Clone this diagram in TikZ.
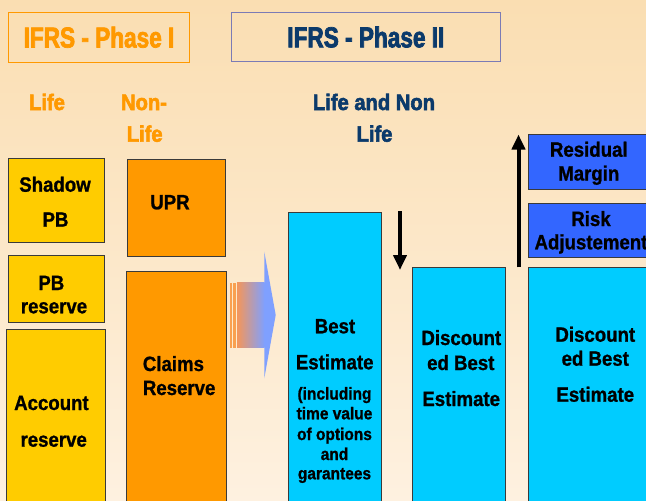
\documentclass[tikz,border=0pt]{standalone}
\usepackage{fontspec}
\setmainfont{Liberation Sans}
\newfontfamily\bodyf{Liberation Sans Bold}[FakeStretch=0.9, FakeBold=1]
\newfontfamily\subf{Liberation Sans Bold}[FakeStretch=0.9, FakeBold=2.5]
\newfontfamily\titlef{Liberation Sans Bold}[FakeStretch=0.785, FakeBold=2.5]
\usetikzlibrary{arrows.meta}
\definecolor{bgtop}{HTML}{FADEB2}
\definecolor{bgbot}{HTML}{FEF1E0}
\definecolor{yel}{HTML}{FFCC00}
\definecolor{orng}{HTML}{FF9900}
\definecolor{cyanb}{HTML}{00CCFF}
\definecolor{royal}{HTML}{3366FF}
\definecolor{navy}{HTML}{0B3A6B}
\definecolor{phline}{HTML}{7B7BB5}
\definecolor{boxline}{HTML}{3A3A3A}
\definecolor{arrL}{HTML}{F4965A}
\definecolor{arrR}{HTML}{7FA0FF}
\definecolor{stripe}{HTML}{F9A04F}
\begin{document}
\begin{tikzpicture}[x=1pt,y=-1pt,
  box/.style={draw=boxline, line width=0.9pt, anchor=north west, inner sep=0pt, outer sep=0pt},
  ybox/.style={box, fill=yel},
  obox/.style={box, fill=orng},
  cbox/.style={box, fill=cyanb},
  bbox/.style={box, fill=royal},
  title/.style={anchor=north west, line width=1pt, inner sep=0pt, font=\titlef\fontsize{28.8}{30}\selectfont},
  t/.style={anchor=base, inner sep=0pt, font=\bodyf\fontsize{20.7}{24}\selectfont},
  ts/.style={anchor=base, inner sep=0pt, font=\bodyf\fontsize{17.2}{20}\selectfont},
  sub/.style={anchor=base, inner sep=0pt, font=\subf\fontsize{22.4}{26}\selectfont},
  bigarrow/.style={line width=4pt, -{Triangle[width=13pt,length=15pt]}}
  ]
\clip (0,0) rectangle (646,501);
\shade[top color=bgtop, bottom color=bgbot] (0,0) rectangle (646,501);

% titles
\node[title, draw=orng, text=orng, minimum width=181pt, minimum height=50pt] (ph1) at (8,11.7) {IFRS - Phase I};
\node[title, draw=phline, text=navy, minimum width=269.3pt, minimum height=49.6pt] (ph2) at (230.7,11.7) {IFRS - Phase II};

% sub headings
\node[sub, text=orng] (life) at (47,110) {Life};
\node[sub, text=orng] (nonla) at (144,110) {Non-};
\node[sub, text=orng] (nonlb) at (144.7,141.7) {Life};
\node[sub, text=navy] (lna) at (374,110) {Life and Non};
\node[sub, text=navy] (lnb) at (374.5,141.7) {Life};

% Phase I life boxes
\node[ybox, minimum width=96.7pt, minimum height=84pt] (shadow) at (8,158.3) {};
\node[t] (shadowa) at (55,191.7) {Shadow};
\node[t] (shadowb) at (55.5,226.7) {PB};
\node[ybox, minimum width=96.7pt, minimum height=67.4pt] (pbres) at (8,255.3) {};
\node[t] (pbresa) at (51.3,290) {PB};
\node[t] (pbresb) at (54,313.3) {reserve};
\node[ybox, minimum width=98.3pt, minimum height=190pt] (acc) at (6.7,329.3) {};
\node[t, anchor=base west] (acca) at (14,410) {Account};
\node[t] (accb) at (53.7,446.7) {reserve};

% Phase I non-life boxes
\node[obox, minimum width=98.4pt, minimum height=97.7pt] (upr) at (127.3,159) {};
\node[t] (upra) at (170,209.3) {UPR};
\node[obox, minimum width=100.4pt, minimum height=250pt] (claims) at (126.3,271.3) {};
\node[t, anchor=base west] (claimsa) at (142.7,371) {Claims};
\node[t, anchor=base west] (claimsb) at (142.7,395) {Reserve};

% transition arrow
\fill[stripe] (230,282.7) rectangle (232.3,347.7);
\fill[stripe] (233.3,282.7) rectangle (236,347.7);
\shade[left color=arrL, right color=arrR] (237,282.7) rectangle (264.6,347.7);
\fill[arrR] (264.3,251.7) -- (275.7,315) -- (264.3,378.3) -- cycle;

% Phase II boxes
\node[cbox, minimum width=93pt, minimum height=310pt] (best) at (288,212.3) {};
\node[t] (besta) at (335,333.3) {Best};
\node[t] (bestb) at (334.7,369.3) {Estimate};
\node[ts] (bestc) at (334.5,399.5) {(including};
\node[ts] (bestd) at (334.5,419.3) {time value};
\node[ts] (beste) at (334.5,440) {of options};
\node[ts] (bestf) at (334.5,460) {and};
\node[ts] (bestg) at (334.5,479.3) {garantees};

\node[cbox, minimum width=93pt, minimum height=260pt] (disc) at (412,267.3) {};
\node[t] (disca) at (461.3,345) {Discount};
\node[t] (discb) at (460.8,370) {ed Best};
\node[t] (discc) at (461.2,406) {Estimate};

\node[cbox, minimum width=130pt, minimum height=260pt] (discr) at (528.5,267.8) {};
\node[t] (discra) at (595.3,341.7) {Discount};
\node[t] (discrb) at (595.3,365.7) {ed Best};
\node[t] (discrc) at (595.3,401.7) {Estimate};

\node[bbox, minimum width=130pt, minimum height=54.4pt] (risk) at (528.5,203.3) {};
\node[t] (riska) at (591,226) {Risk};
\node[t] (riskb) at (591,249.3) {Adjustement};

\node[bbox, minimum width=130pt, minimum height=54.7pt] (resid) at (528.5,134.3) {};
\node[t] (resida) at (588.8,156.7) {Residual};
\node[t] (residb) at (588.8,180.5) {Margin};

% vertical arrows
\coordinate (dA) at (400,211);
\coordinate (dB) at (400,270);
\draw[bigarrow] (dA) -- (dB);
\coordinate (uA) at (518.5,267.3);
\coordinate (uB) at (518.5,134.5);
\draw[bigarrow] (uA) -- (uB);
\end{tikzpicture}
\end{document}
